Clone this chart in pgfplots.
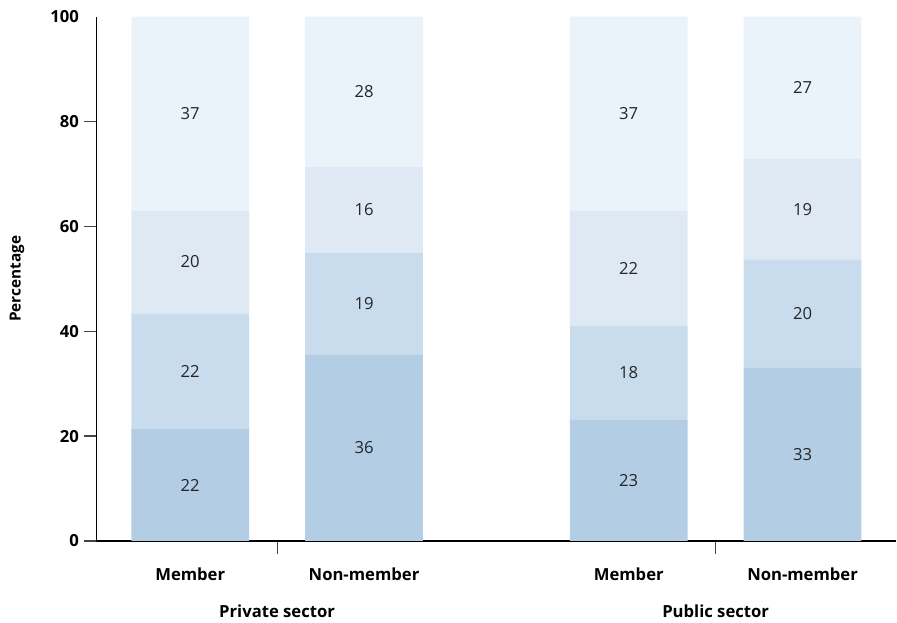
\documentclass[border=0pt]{standalone}
\usepackage{pgfplots}
\pgfplotsset{compat=1.18}
\usepackage{pgfplotstable}
\usepackage{fontspec}
\setmainfont{Open Sans}

\definecolor{segA}{HTML}{B3CDE5}
\definecolor{segB}{HTML}{C9DCEE}
\definecolor{segC}{HTML}{DEE9F4}
\definecolor{segD}{HTML}{EAF2FA}
\definecolor{tickgray}{HTML}{444444}

% x: bar position, a-d: segment heights (bottom to top), la-ld: printed labels
\pgfplotstableread{
x      a    b    c    d    la lb lc ld
1      21.3 22.1 19.6 37.0 22 22 20 37
2      35.6 19.3 16.5 28.6 36 19 16 28
3.523  23.2 17.8 22.0 37.0 23 18 22 37
4.523  33.0 20.7 19.1 27.2 33 20 19 27
}\shares

\begin{document}
\begin{tikzpicture}
\begin{axis}[
  scale only axis, width=600.75pt, height=393.75pt,
  xmin=0.4598, xmax=5.063, ymin=0, ymax=100,
  ybar stacked, bar width=88.5pt,
  axis x line=bottom, axis y line=left,
  axis line style={black, line width=0.9pt, -},
  tick style={tickgray, line width=0.9pt},
  tick align=outside, major tick length=9.5pt,
  ytick={0,20,...,80}, extra y ticks={100}, extra y tick style={tick style={draw=none}},
  yticklabel style={font=\fontsize{12.5}{15}\selectfont\bfseries},
  /pgf/number format/assume math mode=true,
  xtick={1.5,4.023}, xticklabels={Private sector,Public sector},
  xticklabel style={font=\fontsize{12.5}{15}\selectfont\bfseries, yshift=-35pt},
  extra x ticks={1,2,3.523,4.523},
  extra x tick labels={Member,Non-member,Member,Non-member},
  extra x tick style={tick style={draw=none}, tick label style={yshift=27.5pt}},
  ylabel={Percentage},
  ylabel style={at={(axis description cs:0,0.5)}, anchor=center, yshift=59.5pt, font=\fontsize{11.5}{13}\selectfont\bfseries},
  point meta=explicit symbolic,
  nodes near coords={\pgfplotspointmeta},
  every node near coord/.append style={anchor=center, text=black!85, font=\fontsize{12.5}{15}\selectfont},
]
\addplot[fill=segA, draw=none] table[x=x, y=a, meta=la] {\shares};
\addplot[fill=segB, draw=none] table[x=x, y=b, meta=lb] {\shares};
\addplot[fill=segC, draw=none] table[x=x, y=c, meta=lc] {\shares};
\addplot[fill=segD, draw=none] table[x=x, y=d, meta=ld] {\shares};
\end{axis}
% white margin at the left and top, as in the reference
\path ([xshift=-4pt,yshift=4.5pt]current bounding box.north west);
\end{tikzpicture}
\end{document}
